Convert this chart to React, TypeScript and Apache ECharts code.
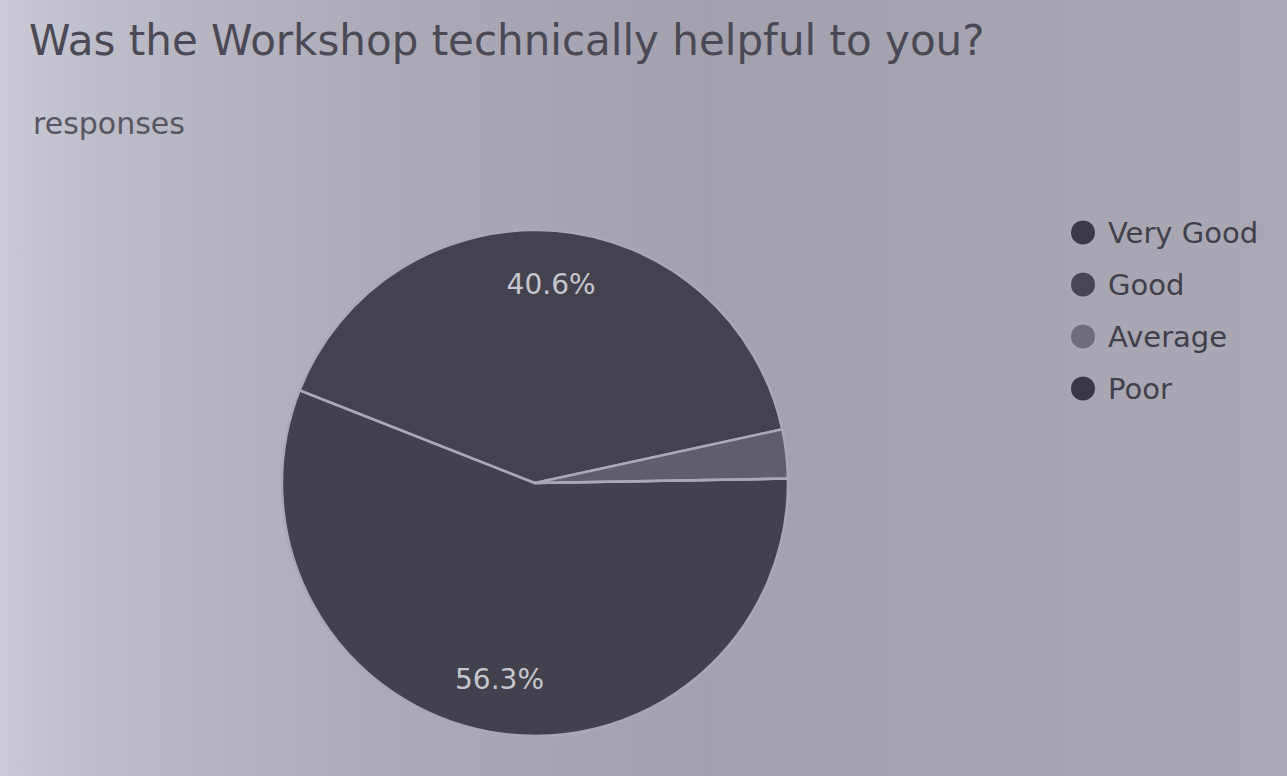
import React, { useEffect, useRef } from 'react';
import * as echarts from 'echarts';

const TITLE = 'Was the Workshop technically helpful to you?';
const SUBTITLE = 'responses';
const categories = ['Very Good', 'Good', 'Average', 'Poor'];
const responses = [18, 13, 1, 0];

const SLICE_COLORS = ['#42414d', '#43424e', '#5f5e6b', '#42414d'];
const LEGEND_COLORS = ['#3b3a46', '#474652', '#6e6d79', '#393844'];
const FONT = '"DejaVu Sans", "Liberation Sans", Arial, sans-serif';

export default function App() {
  const ref = useRef<HTMLDivElement>(null);
  useEffect(() => {
    const chart = echarts.init(ref.current!, null, { renderer: 'svg' });
    const pieData = categories.map((name, i) => ({
      name,
      value: responses[i],
      itemStyle: { color: SLICE_COLORS[i] },
    }));
    chart.setOption({
      animation: false,
      backgroundColor: new echarts.graphic.LinearGradient(0, 0, 1, 0, [
        { offset: 0, color: '#cbcbd8' },
        { offset: 0.08, color: '#bdbcc9' },
        { offset: 0.3, color: '#abaab6' },
        { offset: 0.55, color: '#a2a1ad' },
        { offset: 1, color: '#a9a8b4' },
      ]),
      title: [
        {
          text: TITLE,
          left: 24,
          top: 14,
          textStyle: { fontSize: 42, fontWeight: 'normal', color: '#4a4955', fontFamily: FONT },
        },
        {
          text: SUBTITLE,
          left: 28,
          top: 103,
          textStyle: { fontSize: 30, fontWeight: 'normal', color: '#575662', fontFamily: FONT },
        },
      ],
      legend: {
        orient: 'vertical',
        left: 1064,
        top: 213,
        icon: 'circle',
        itemWidth: 26,
        itemHeight: 26,
        itemGap: 23,
        selectedMode: false,
        textStyle: {
          fontSize: 29,
          color: '#403f4b',
          fontFamily: FONT,
          lineHeight: 26,
          padding: [0, 0, 0, 7],
        },
        data: categories.map((name, i) => ({ name, itemStyle: { color: LEGEND_COLORS[i] } })),
      },
      series: [
        {
          type: 'pie',
          center: [535, 483],
          radius: [0, 253],
          startAngle: 1,
          clockwise: true,
          label: { show: false },
          labelLine: { show: false },
          itemStyle: { borderColor: '#a9a9b5', borderWidth: 2.5 },
          data: pieData,
        },
        {
          type: 'pie',
          center: [535, 483],
          radius: [140, 253],
          startAngle: 1,
          clockwise: true,
          silent: true,
          percentPrecision: 1,
          minShowLabelAngle: 20,
          itemStyle: { color: 'rgba(0,0,0,0)', borderWidth: 0 },
          labelLine: { show: false },
          label: {
            show: true,
            position: 'inside',
            formatter: (p: any) => (p.percent >= 5 ? `${p.percent}%` : ''),
            fontSize: 28,
            color: '#c6c6d0',
            fontFamily: FONT,
          },
          data: categories.map((name, i) => ({ name, value: responses[i] })),
        },
      ],
    });
    return () => chart.dispose();
  }, []);
  return (
    <div
      ref={ref}
      style={{ position: 'fixed', left: 0, top: 0, width: 1287, height: 776 }}
    />
  );
}
